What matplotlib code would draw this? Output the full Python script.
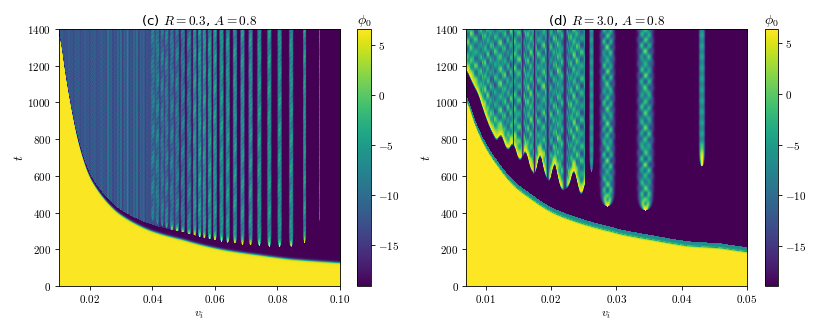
import numpy as np
import matplotlib
matplotlib.use("Agg")
import matplotlib.pyplot as plt

plt.rcParams['mathtext.fontset'] = 'cm'
plt.rcParams['font.family'] = 'DejaVu Sans'

# ---- values ----
# NOTE: boundaries, stripe positions/tips/widths are read off the picture.
# The fine texture inside the stripes cannot be read cell by cell and is an
# approximate deterministic sine pattern, not source data.
left_vrange = [0.01, 0.10]
right_vrange = [0.007, 0.05]
t_max = 1400
phi_left = [-19.1, 6.6]
phi_right = [-18.9, 6.35]
phi_yellow = 6.4
phi_dark = -19.0

left_bound_v = [.0100, .0115, .01347, .0158, .0195, .0286, .0393, .0499, .0626, .0734, .0840, .1000]
left_bound_t = [1400, 1200, 1000, 800, 600, 400, 300, 250, 196, 169, 145, 125]
left_band_v = [.01, .02, .03, .04, .05, .10]
left_band_dt = [12, 18, 26, 35, 40, 45]

left_stripe_v = [.0399, .0414, .0429, .0443, .0460, .0477, .0495, .0515, .0533, .0549, .0564, .0581,
                 .0598, .0619, .0639, .0662, .0686, .0712, .0740, .0772, .0805, .0842, .0885, .0932]
left_stripe_tip = [352, 338, 326, 314, 302, 292, 282, 272, 267, 262, 256, 250,
                   246, 240, 234, 230, 223, 220, 218, 212, 212, 212, 234, 350]
left_stripe_hw = [.00058, .00058, .00058, .00060, .00066, .00066, .00070, .00072, .00058, .00058, .00058, .00060,
                  .00060, .00062, .00062, .00062, .00062, .00062, .00062, .00062, .00062, .00062, .00045, .00016]
left_line_v = [.0255, .0297, .0319, .0348]

right_bound_v = [.0070, .00807, .0096, .01174, .01419, .01679, .02031, .02444, .02949, .03056, .03561, .04081, .04586, .0500]
right_bound_t = [1031, 904, 778, 659, 550, 479, 398, 343, 294, 283, 250, 218, 207, 185]
right_edge_v = [.0070, .00884, .01067, .01174, .0122, .01327, .01419, .01511, .01618, .01664, .01756, .01822,
                .01909, .01996, .02036, .02149, .02276, .02342, .02455, .02531]
right_edge_t = [1177, 1040, 850, 779, 833, 730, 779, 670, 741, 643, 594, 741,
                588, 561, 703, 512, 539, 648, 474, 577]
right_divider_v = [.01419, .01561, .01741, .01944, .02207]
right_divider_hw = [.00008, .00012, .00012, .00018, .00028]
right_finger_v = [.02613, .02857, .03439, .04303]
right_finger_hw = [.00030, .00097, .00107, .00041]
right_finger_tip = [622, 432, 410, 650]

x_ticks_left = [.02, .04, .06, .08, .10]
x_ticks_right = [.01, .02, .03, .04, .05]
t_ticks = [0, 200, 400, 600, 800, 1000, 1200, 1400]
cb_ticks = [5, 0, -5, -10, -15]


def grids(vrange, nv=282, nt=257):
    v = np.linspace(vrange[0], vrange[1], nv)
    t = np.linspace(0, t_max, nt)
    V, T = np.meshgrid(v, t)
    I, J = np.meshgrid(np.arange(nv), np.arange(nt))
    return v, V, T, I, J


def smooth_curve(v, xs, ys, n):
    y = np.exp(np.interp(np.log(v), np.log(xs), np.log(ys)))
    if n:
        pad = np.pad(y, n, mode='edge')
        y = np.convolve(pad, np.ones(2*n + 1)/(2*n + 1), mode='valid')
    return y


def left_field():
    v1, V, T, I, J = grids(left_vrange)
    tb = np.tile(smooth_curve(v1, left_bound_v, left_bound_t, 3), (len(T), 1))
    d = np.interp(V, left_band_v, left_band_dt)
    A = np.sin(1.1*I) + np.sin(2.399*I + 1) + np.sin(2.93*I + 2)
    B = np.sin(1.3*J) + np.sin(2.2*J + 1) + np.sin(2.87*J + 2)
    A2 = np.sin(.77*I + .5) + np.sin(1.93*I + 2.2)
    F = -12.2 + .38*A*B + .5*A2*(1 + .9*(V > left_line_v[0]))
    for v in left_line_v:
        F += 3.8*np.exp(-((V - v)/.00022)**2)
    base = np.where(V < .042, -13.0, np.where(V < .048, -16.0, phi_dark))
    F = np.where(V > .0385, base, F)
    for k, (v, hw, tip) in enumerate(zip(left_stripe_v, left_stripe_hw, left_stripe_tip)):
        s = T - tip
        env = hw*np.sqrt(np.clip(1 - np.exp(-np.clip(s, 0, None)/25), 1e-4, None))
        prof = np.exp(-((V - v)/env)**4)*(s > 0)
        mean = -9.0 if v < .052 else (-6.0 if hw > .0002 else -9.0)
        val = (mean + 2.4*np.cos(2*np.pi*s/46 + 5.1*I)*np.sin(.5*J + 2.3*k)
               + 1.3*np.sin(.21*J + 1.9*k))
        yel = np.clip((v - .040)/.008, 0, 1)*(v < .09)
        val = val + (phi_yellow - val)*np.exp(-(np.clip(s, 0, None)/30)**2)*yel
        F = F*(1 - prof) + val*prof
    F = np.where(T < tb + d, phi_dark, F)
    w = 1/(1 + np.exp(np.clip((T - tb)/3.0, -30, 30)))
    return phi_yellow*w + F*(1 - w)


def right_field():
    v1, V, T, I, J = grids(right_vrange)
    tb = np.tile(smooth_curve(v1, right_bound_v, right_bound_t, 4), (len(T), 1))
    edge = np.tile(smooth_curve(v1, right_edge_v, right_edge_t, 2), (len(T), 1))
    win = np.searchsorted(right_divider_v, V)
    X0 = 2*np.pi*(V - right_vrange[0])/.00120
    X = X0 + 1.1*np.sin(.37*X0)
    col = np.floor(X0/np.pi)
    P = 2*np.pi*T/74 + 2.4*col + 2.1*win
    M = (-6.0 + 4.6*np.abs(np.sin(X))*np.cos(P) + 1.6*np.sin(.53*X + .61*P + 1)
         + 1.2*np.sin(.37*X0 + .5*col) + .8*np.sin(.23*X0 + .17*P))
    s = T - edge
    M = M + (phi_yellow - M)*np.exp(-(np.clip(s, 0, None)/70)**2)
    on = np.clip(s/14, 0, 1)
    F = phi_dark + (M - phi_dark)*on
    F = np.where(V < .02515, F, phi_dark)
    for v, hw in zip(right_divider_v, right_divider_hw):
        prof = np.exp(-((V - v)/hw)**2)
        F = F*(1 - prof) + (-17.0)*prof
    for k, (v, hw, tip) in enumerate(zip(right_finger_v, right_finger_hw, right_finger_tip)):
        s = np.clip(T - tip, 0, None)
        env = hw*np.sqrt(np.clip(1 - np.exp(-s/45), 1e-4, None))
        u = (V - v)/env
        uu = (V - v)/hw
        prof = np.exp(-np.abs(u)**3.5)*(T > tip)
        ph = 2*np.pi*s/66
        val = (-5.0 + 4.6*np.cos(ph + 1.2*np.sin(s/170))*np.cos(2*np.pi*uu*.8)
               + 1.4*np.sin(ph*.63 + 3.1*uu) + 1.0*np.sin(ph*1.37 - 4.3*uu))
        if hw < .0005:
            val = -5.5 + 1.5*np.cos(2*np.pi*s/60)
        if hw < .0004:
            yel = 0*s
        elif hw < .0005:
            yel = np.exp(-(s/110)**4)
        else:
            yel = np.exp(-(s/80)**2)*(1 - .85*np.exp(-(uu/.35)**2)*(1 - np.exp(-(s/35)**2)))
        val = val + (phi_yellow - val)*yel
        F = F*(1 - prof) + val*prof
    F = np.where((T < edge) & (V < .02515), phi_dark, F)
    band = (T >= tb) & (T < tb + 24)
    F = np.where(band, -6.5, F)
    w = 1/(1 + np.exp(np.clip((T - tb)/3.0, -30, 30)))
    return phi_yellow*w + F*(1 - w)


W, H = 830, 332
fig = plt.figure(figsize=(W/100, H/100), dpi=100)


def box(x0, x1, y0, y1):
    return [x0/W, 1 - y1/H, (x1 - x0)/W, (y1 - y0)/H]


def panel(field, vrange, phi, xticks, title, ax_box, cb_box, xfmt):
    ax = fig.add_axes(box(*ax_box))
    im = ax.imshow(field, origin='lower', aspect='auto', cmap='viridis',
                   extent=[vrange[0], vrange[1], 0, t_max], vmin=phi[0], vmax=phi[1],
                   interpolation='bilinear')
    ax.set_xticks(xticks)
    ax.set_xticklabels([f'${xfmt % x}$' for x in xticks], fontsize=8)
    ax.set_yticks(t_ticks)
    ax.set_yticklabels([f'${y}$' for y in t_ticks], fontsize=8)
    ax.tick_params(length=2.8, width=.6, pad=2.5)
    ax.set_xlabel('$v_i$', fontsize=8.5, labelpad=2)
    ax.set_ylabel('$t$', fontsize=9.5, labelpad=1)
    ax.set_title(title, fontsize=9.6, pad=3)
    for sp in ax.spines.values():
        sp.set_linewidth(.6)
    cax = fig.add_axes(box(*cb_box))
    cb = fig.colorbar(im, cax=cax)
    cb.set_ticks(cb_ticks)
    cb.set_ticklabels([f'${c}$' for c in cb_ticks], fontsize=8)
    cb.ax.tick_params(length=2.8, width=.6, pad=2.5)
    cb.outline.set_linewidth(.6)
    cax.set_title(r'$\phi_0$', fontsize=10, pad=3)


panel(left_field(), left_vrange, phi_left, x_ticks_left, '(c) $R=0.3$, $A=0.8$',
      (58.5, 340, 29, 286), (357, 371, 29, 286), '%.2f')
panel(right_field(), right_vrange, phi_right, x_ticks_right, '(d) $R=3.0$, $A=0.8$',
      (466, 747, 29, 286), (765, 778, 29, 286), '%.2f')

fig.savefig('out.png', dpi=100)
